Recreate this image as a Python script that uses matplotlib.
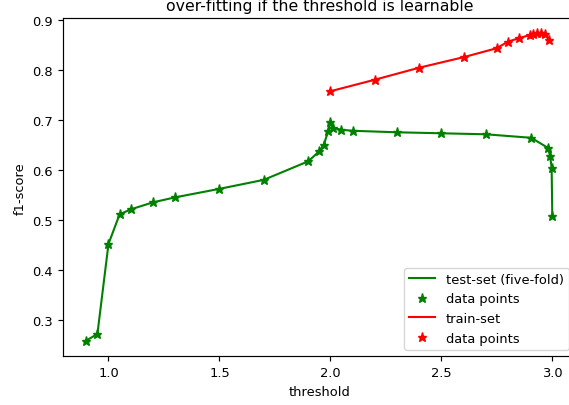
import numpy as np
import matplotlib
matplotlib.use('Agg')
import matplotlib.pyplot as plt

# test-set (five-fold) scores
test_thr = [0.90, 0.95, 1.00, 1.05, 1.10, 1.20, 1.30, 1.50, 1.70, 1.90, 1.95, 1.97,
            1.99, 2.00, 2.01, 2.05, 2.10, 2.30, 2.50, 2.70, 2.905, 2.98, 2.99, 2.997, 3.00]
test_f1 = [0.259, 0.272, 0.452, 0.511, 0.521, 0.535, 0.545, 0.562, 0.580, 0.617, 0.637, 0.650,
           0.677, 0.695, 0.684, 0.680, 0.678, 0.675, 0.673, 0.671, 0.664, 0.644, 0.628, 0.604, 0.508]

# train-set scores
train_thr = [2.00, 2.20, 2.40, 2.60, 2.75, 2.80, 2.85, 2.90, 2.915, 2.93, 2.95, 2.965, 2.985]
train_f1 = [0.757, 0.780, 0.804, 0.825, 0.843, 0.856, 0.863, 0.8695, 0.8715, 0.873, 0.873, 0.8715, 0.860]

plt.rcParams['font.size'] = 9.4

fig = plt.figure(figsize=(5.69, 4.06), dpi=100)
# the right part of the axes runs past the picture edge, as in the source image
ax = fig.add_axes([63 / 569, 1 - 357.3 / 406, (575.6 - 63) / 569, (357.3 - 19) / 406])

ax.plot(test_thr, test_f1, 'g-', lw=1.5, label='test-set (five-fold)')
ax.plot(test_thr, test_f1, 'g*', ms=6.8, label='data points')
ax.plot(train_thr, train_f1, 'r-', lw=1.5, label='train-set')
ax.plot(train_thr, train_f1, 'r*', ms=6.8, label='data points')

ax.set_xlim(0.795, 3.105)
ax.set_ylim(0.2275, 0.9033)
ax.set_xticks([1.0, 1.5, 2.0, 2.5, 3.0])
ax.set_yticks([0.3, 0.4, 0.5, 0.6, 0.7, 0.8, 0.9])
ax.tick_params(width=0.85, length=3.6)
for sp in ax.spines.values():
    sp.set_linewidth(0.85)

ax.set_xlabel('threshold')
ax.set_ylabel('f1-score')
ax.set_title('over-fitting if the threshold is learnable', fontsize=11.3)
ax.legend(loc='lower right')

fig.savefig('out.png', dpi=100)
